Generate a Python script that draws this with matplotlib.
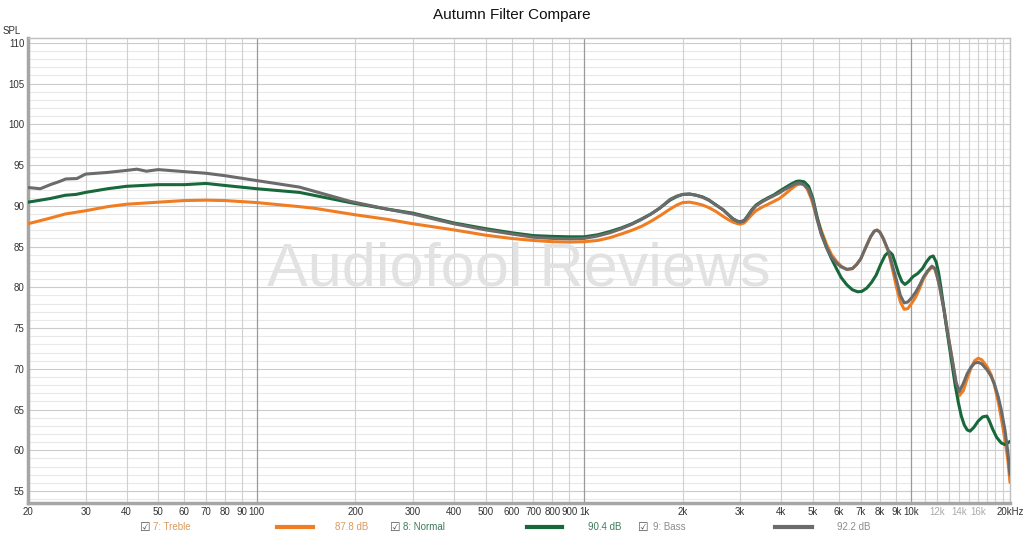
import matplotlib
matplotlib.use("Agg")
import matplotlib.pyplot as plt

plt.rcParams['font.family'] = ['Liberation Sans', 'DejaVu Sans']

title = "Autumn Filter Compare"
watermark = "Audiofool Reviews"

treble_freq = [20, 23.4, 26, 30, 35, 40, 50, 60, 70, 80, 100, 135, 150, 200, 250, 300, 400, 500, 600, 700,
               800, 900, 1000, 1100, 1200, 1300, 1400, 1500, 1600, 1700, 1830, 1920, 2000, 2100, 2200,
               2300, 2400, 2530, 2660, 2760, 2850, 2950, 3000, 3080, 3150, 3250, 3350, 3500, 3650, 3800,
               3950, 4100, 4300, 4450, 4600, 4700, 4800, 4950, 5100, 5300, 5500, 5700, 5900, 6100, 6350,
               6600, 6800, 7000, 7250, 7500, 7700, 7850, 8000, 8200, 8500, 8800, 9000, 9250, 9500, 9750,
               10000, 10300, 10600, 10900, 11200, 11550, 11800, 12000, 12200, 12600, 13000, 13300, 13700,
               14000, 14400, 14800, 15200, 15600, 16000, 16400, 17000, 17500, 17900, 18400, 18800, 19300,
               19700, 20000]
treble_spl = [87.8, 88.5, 89.0, 89.4, 89.9, 90.2, 90.45, 90.65, 90.7, 90.65, 90.4, 89.9, 89.7, 88.9, 88.35,
              87.8, 87.05, 86.4, 86.0, 85.75, 85.6, 85.55, 85.6, 85.75, 86.1, 86.55, 87.0, 87.5, 88.1,
              88.75, 89.6, 90.1, 90.4, 90.45, 90.3, 90.1, 89.8, 89.3, 88.7, 88.3, 88.0, 87.8, 87.75, 87.9,
              88.3, 88.9, 89.4, 89.85, 90.2, 90.55, 90.9, 91.4, 92.1, 92.55, 92.7, 92.55, 92.1, 90.8, 89.0,
              87.0, 85.3, 84.0, 83.2, 82.6, 82.2, 82.3, 82.8, 83.5, 84.9, 86.2, 86.9, 87.05, 86.8, 86.0,
              84.4, 81.8, 80.0, 78.2, 77.3, 77.4, 78.0, 78.8, 79.9, 81.1, 81.9, 82.5, 82.2, 81.2, 80.1,
              77.0, 73.6, 71.3, 67.9, 66.7, 67.3, 68.8, 70.1, 71.0, 71.3, 71.1, 70.3, 69.3, 68.1, 66.0,
              64.0, 61.3, 58.8, 56.05]

normal_freq = [20, 23.4, 26, 28, 30, 35, 40, 50, 60, 70, 80, 100, 135, 193, 250, 300, 400, 500, 600, 700,
               800, 900, 1000, 1100, 1200, 1300, 1400, 1500, 1600, 1700, 1830, 1920, 2000, 2100, 2200,
               2300, 2400, 2530, 2660, 2760, 2850, 2950, 3000, 3080, 3150, 3250, 3350, 3500, 3650, 3800,
               3950, 4100, 4300, 4450, 4550, 4700, 4850, 5000, 5150, 5300, 5500, 5700, 5900, 6100, 6350,
               6600, 6850, 7050, 7300, 7550, 7800, 8050, 8300, 8550, 8750, 8950, 9150, 9350, 9550, 9800,
               10100, 10450, 10800, 11100, 11400, 11650, 11900, 12100, 12300, 12500, 12750, 13000, 13300,
               13600, 13900, 14200, 14500, 14800, 15100, 15500, 16000, 16500, 17000, 17300, 17700, 18200,
               18800, 19300, 19700, 20000]
normal_spl = [90.45, 90.9, 91.3, 91.4, 91.65, 92.1, 92.4, 92.6, 92.6, 92.75, 92.5, 92.1, 91.65, 90.4, 89.6,
              89.1, 87.9, 87.2, 86.7, 86.35, 86.25, 86.2, 86.2, 86.45, 86.85, 87.3, 87.8, 88.4, 89.0,
              89.7, 90.7, 91.15, 91.4, 91.45, 91.3, 91.1, 90.75, 90.1, 89.5, 88.9, 88.4, 88.1, 88.05,
              88.2, 88.7, 89.5, 90.1, 90.6, 91.0, 91.35, 91.8, 92.2, 92.7, 93.0, 93.05, 92.95, 92.4, 90.9,
              88.6, 86.7, 84.9, 83.5, 82.3, 81.2, 80.3, 79.7, 79.45, 79.5, 79.9, 80.6, 81.5, 82.8, 83.9,
              84.4, 84.0, 82.8, 81.6, 80.7, 80.35, 80.7, 81.3, 81.7, 82.3, 83.1, 83.7, 83.85, 83.1, 81.8,
              80.0, 78.0, 75.5, 73.2, 70.6, 68.0, 65.9, 64.2, 63.1, 62.5, 62.35, 62.8, 63.6, 64.1, 64.2,
              63.6, 62.6, 61.6, 60.9, 60.7, 60.9, 61.1]

bass_freq = [20, 21.8, 23.4, 25, 26.1, 28.2, 30, 35, 40, 43, 46, 50, 60, 70, 80, 100, 135, 193, 250, 300,
             400, 500, 600, 700, 800, 900, 1000, 1100, 1200, 1300, 1400, 1500, 1600, 1700, 1830, 1920,
             2000, 2100, 2200, 2300, 2400, 2530, 2660, 2760, 2850, 2950, 3000, 3080, 3150, 3250, 3350,
             3500, 3650, 3800, 3950, 4100, 4300, 4450, 4550, 4700, 4850, 5000, 5150, 5300, 5500, 5700,
             5900, 6100, 6350, 6600, 6800, 7000, 7250, 7500, 7700, 7850, 8000, 8200, 8500, 8800, 9000,
             9250, 9500, 9750, 10000, 10300, 10600, 10900, 11200, 11550, 11800, 12000, 12200, 12600,
             13000, 13300, 13700, 14000, 14400, 14800, 15200, 15600, 16000, 16400, 17000, 17500, 17900,
             18400, 18800, 19300, 19700, 20000]
bass_spl = [92.25, 92.1, 92.6, 93.0, 93.3, 93.35, 93.9, 94.1, 94.35, 94.5, 94.25, 94.45, 94.2, 94.0, 93.7,
            93.1, 92.3, 90.55, 89.6, 89.0, 87.8, 87.05, 86.55, 86.15, 86.0, 85.95, 86.0, 86.3, 86.7, 87.2,
            87.75, 88.35, 89.0, 89.7, 90.8, 91.2, 91.4, 91.45, 91.3, 91.05, 90.7, 90.1, 89.5, 88.9, 88.4,
            88.05, 88.0, 88.15, 88.6, 89.4, 90.0, 90.5, 90.9, 91.25, 91.6, 92.0, 92.45, 92.75, 92.8,
            92.6, 92.0, 90.6, 88.3, 86.5, 84.9, 83.7, 83.0, 82.5, 82.2, 82.3, 82.8, 83.5, 84.9, 86.2,
            86.9, 87.0, 86.8, 86.0, 84.5, 82.3, 80.9, 79.0, 78.1, 78.2, 78.7, 79.4, 80.3, 81.3, 82.0,
            82.6, 82.3, 81.3, 80.0, 77.0, 73.6, 71.3, 68.3, 67.2, 68.2, 69.4, 70.2, 70.7, 70.8, 70.6,
            69.9, 69.1, 68.2, 66.6, 65.0, 62.5, 59.8, 57.0]

series_names = ["7: Treble", "8: Normal", "9: Bass"]
series_levels = ["87.8 dB", "90.4 dB", "92.2 dB"]

x_tick_values = [20, 30, 40, 50, 60, 70, 80, 90, 100, 200, 300, 400, 500, 600, 700, 800, 900, 1000,
                 2000, 3000, 4000, 5000, 6000, 7000, 8000, 9000, 10000, 12000, 14000, 16000, 20000]
x_tick_labels = ["20", "30", "40", "50", "60", "70", "80", "90", "100", "200", "300", "400", "500", "600",
                 "700", "800", "900", "1k", "2k", "3k", "4k", "5k", "6k", "7k", "8k", "9k", "10k", "12k",
                 "14k", "16k", "20kHz"]
y_tick_values = [55, 60, 65, 70, 75, 80, 85, 90, 95, 100, 105, 110]

line_colors = ["#f07d22", "#17683a", "#6b6b6b"]
text_colors = ["#d99a5e", "#3d7b5a", "#8c8c8c"]

W, H = 1024, 537
fig = plt.figure(figsize=(W / 100, H / 100), dpi=100)
ax = fig.add_axes([28 / W, (H - 503) / H, 982 / W, 465 / H])
ax.set_xscale('log')
ax.set_xlim(20, 20000)
ax.set_ylim(53.53, 110.6)

# grid
for d in range(54, 111):
    ax.axhline(d, color="#cbcbcb" if d % 5 == 0 else "#e9e9e9", lw=0.8, zorder=0)
grid_f = []
for dec in [10, 100, 1000]:
    for m in range(1, 10):
        f = m * dec
        if f >= 20:
            grid_f.append(f)
grid_f += [10000 + 1000 * k for k in range(0, 11)]
for f in grid_f:
    dark = f in (100, 1000, 10000)
    ax.axvline(f, color="#9a9a9a" if dark else "#d0d0d0", lw=0.9 if dark else 0.8, zorder=0)

ax.text(0.5, 0.5, watermark, transform=ax.transAxes,
        fontsize=44, color="#e2e2e2", ha="center", va="center", zorder=1)

ax.plot(treble_freq, treble_spl, color=line_colors[0], lw=2.2, zorder=3,
        solid_capstyle='round', solid_joinstyle='round')
ax.plot(normal_freq, normal_spl, color=line_colors[1], lw=2.2, zorder=3,
        solid_capstyle='round', solid_joinstyle='round')
ax.plot(bass_freq, bass_spl, color=line_colors[2], lw=2.2, zorder=4,
        solid_capstyle='round', solid_joinstyle='round')

ax.xaxis.set_minor_locator(matplotlib.ticker.NullLocator())
ax.set_xticks(x_tick_values)
ax.set_xticklabels(x_tick_labels)
ax.set_yticks(y_tick_values)
ax.set_yticklabels([str(v) for v in y_tick_values])
ax.tick_params(axis='both', length=0, labelsize=7, labelcolor="#333333")
ax.tick_params(axis='x', pad=3)
ax.tick_params(axis='y', pad=2.5)
for lbl in ax.get_xticklabels():
    if lbl.get_text() in ("12k", "14k", "16k"):
        lbl.set_color("#aaaaaa")

for side in ("left", "bottom"):
    ax.spines[side].set_color("#a6a6a6")
    ax.spines[side].set_linewidth(2.5)
for side in ("top", "right"):
    ax.spines[side].set_color("#c0c0c0")
    ax.spines[side].set_linewidth(1.0)

fig.text(3 / W, 1 - 31 / H, "SPL", fontsize=7, color="#333333", ha="left", va="center")
fig.text(0.5, 1 - 15 / H, title, fontsize=11, color="#111111", ha="center", va="center")

# legend row
ly = 1 - 527 / H
box_x = [145, 395, 643]
name_x = [153, 403, 653]
line_x = [(277, 313), (527, 562), (775, 812)]
lvl_x = [335, 588, 837]
for i in range(3):
    fig.text(box_x[i] / W, ly, "\u2611", fontsize=8.5, color="#555555", ha="center", va="center",
             family=['DejaVu Sans'])
    fig.text(name_x[i] / W, ly, series_names[i], fontsize=7, color=text_colors[i], ha="left", va="center")
    fig.add_artist(plt.Line2D([line_x[i][0] / W, line_x[i][1] / W], [ly, ly], color=line_colors[i],
                              lw=3, transform=fig.transFigure))
    fig.text(lvl_x[i] / W, ly, series_levels[i], fontsize=7, color=text_colors[i], ha="left", va="center")

fig.savefig("out.png", dpi=100, facecolor="white")
